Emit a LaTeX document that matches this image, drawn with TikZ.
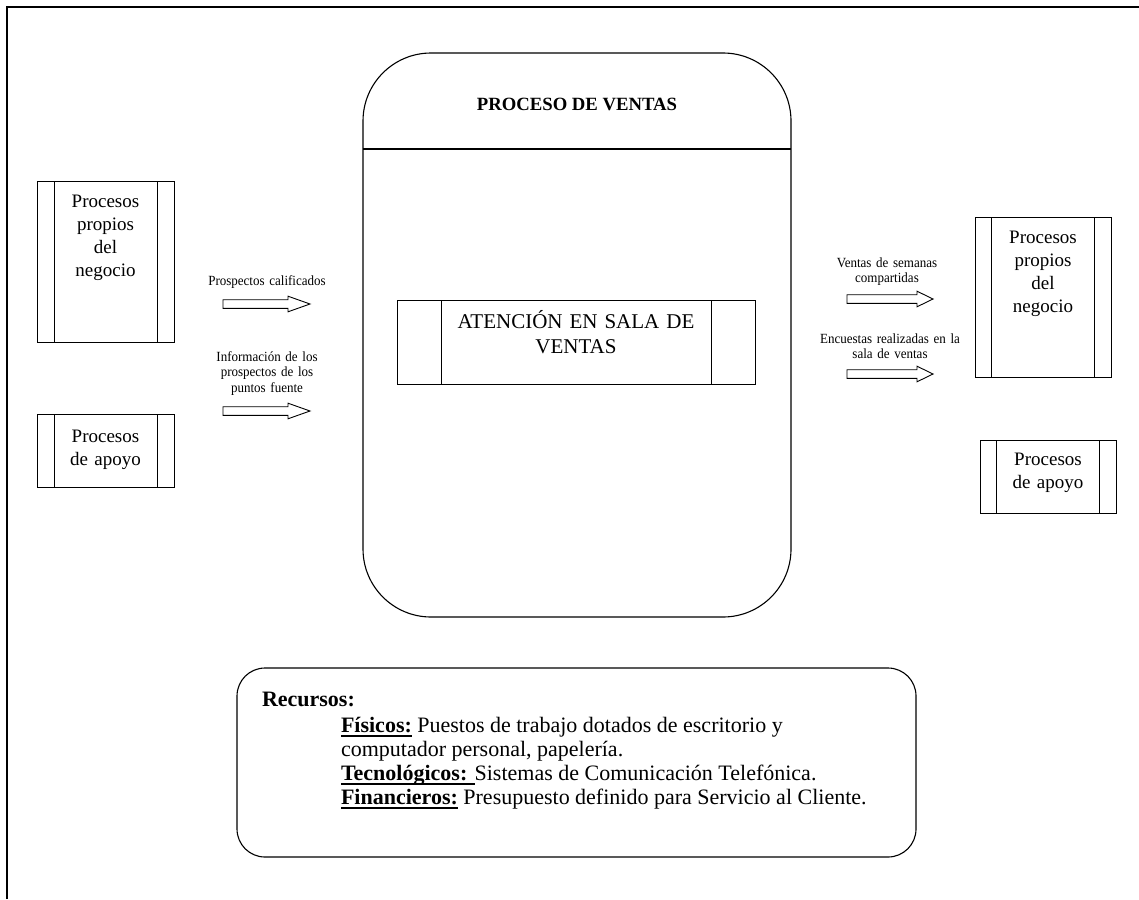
\documentclass[tikz,border=0pt]{standalone}
\usepackage{fontspec}
\setmainfont{Liberation Serif}
\newfontfamily\labelfont[FakeStretch=0.93]{Liberation Serif}
% bold heading with a rule under it, kept at one depth for every word
\newcommand\ulbf[1]{\setbox0\hbox{\textbf{#1}}\rlap{\rule[-4.5pt]{\wd0}{1.2pt}}\box0\relax}

\tikzset{
  pics/fatarrow/.style n args={2}{code={
    \draw[line width=0.9pt] (0,-4.3) -- ({#1-#2},-4.3) -- ({#1-#2},-7.8) -- (#1,0)
      -- ({#1-#2},7.8) -- ({#1-#2},4.3) -- (0,4.3) -- cycle;}}
}

\begin{document}
\begin{tikzpicture}[x=1pt,y=-1pt,
  every node/.style={inner sep=0pt,outer sep=0pt},
  frameline/.style={line width=2.3pt},
  procbox/.style={draw,line width=0.9pt,rectangle,
    path picture={
      \draw[line width=0.9pt] ([xshift=#1]path picture bounding box.north west)
        -- ([xshift=#1]path picture bounding box.south west);
      \draw[line width=0.9pt] ([xshift=-#1]path picture bounding box.north east)
        -- ([xshift=-#1]path picture bounding box.south east);}},
  boxtext/.style={anchor=base,text width=130pt,align=center,
    font=\fontsize{19}{23}\selectfont},
  lbl/.style={anchor=base,text width=150pt,align=center,
    font=\labelfont\fontsize{14}{15.5}\selectfont},
  restext/.style={anchor=base west,font=\fontsize{22}{24}\selectfont}
]
\fill[white] (0,0) rectangle (1139,899);
\useasboundingbox (0,0) rectangle (1139,899);

% page frame (top and left edges)
\draw[frameline] (7.3,899) -- (7.3,6.7) -- (1139,6.7);

% central process
\node[draw,line width=1.1pt,rectangle,rounded corners=68pt,
  minimum width=428pt,minimum height=564pt] (ventas) at (577,335) {};
\draw[line width=1.6pt] (ventas.west |- 0,149) -- (ventas.east |- 0,149);
\node[anchor=base,font=\bfseries\fontsize{18.7}{22}\selectfont] (titulo) at (577,110) {PROCESO DE VENTAS};

\node[procbox=44pt,minimum width=358pt,minimum height=84pt] (atencion) at (576,342) {};
\node[anchor=base,text width=300pt,align=center,font=\fontsize{21}{25.5}\selectfont]
  (atenciontxt) at (576,328) {ATENCIÓN EN SALA DE\\VENTAS};

% incoming processes
\node[procbox=17pt,minimum width=137pt,minimum height=161pt] (propiosL) at (105.5,261.5) {};
\node[boxtext] (propiosLtxt) at (105.5,207) {Procesos\\propios\\del\\negocio};
\node[procbox=17pt,minimum width=137pt,minimum height=73pt] (apoyoL) at (105.5,450.5) {};
\node[boxtext] (apoyoLtxt) at (105.5,442) {Procesos\\de apoyo};

% outgoing processes
\node[procbox=16.5pt,minimum width=136pt,minimum height=160pt] (propiosR) at (1043,297) {};
\node[boxtext] (propiosRtxt) at (1043,243) {Procesos\\propios\\del\\negocio};
\node[procbox=16.5pt,minimum width=136pt,minimum height=73pt] (apoyoR) at (1048,476.5) {};
\node[boxtext] (apoyoRtxt) at (1048,465) {Procesos\\de apoyo};

% inputs
\node[lbl] (in1) at (267,285) {Prospectos calificados};
\pic (arrowin1) at (223,304) {fatarrow={87}{22}};
\node[lbl] (in2) at (267,361) {Información de los\\prospectos de los\\puntos fuente};
\pic (arrowin2) at (223,411) {fatarrow={87}{22}};

% outputs
\node[lbl] (out1) at (887,267) {Ventas de semanas\\compartidas};
\pic (arrowout1) at (847,299) {fatarrow={86}{16}};
\node[lbl] (out2) at (890,343) {Encuestas realizadas en la\\sala de ventas};
\pic (arrowout2) at (847,374) {fatarrow={86}{16}};

% resources
\node[draw,line width=1.1pt,rectangle,rounded corners=28pt,
  minimum width=679pt,minimum height=189pt] (recursos) at (576.5,762.5) {};
\node[restext] (rec0) at (262,706) {\textbf{Recursos:}};
\node[restext] (rec1) at (341,732) {\ulbf{Físicos:} Puestos de trabajo dotados de escritorio y};
\node[restext] (rec2) at (341,756) {computador personal, papelería.};
\node[restext] (rec3) at (341,780) {\ulbf{Tecnológicos: }Sistemas de Comunicación Telefónica.};
\node[restext] (rec4) at (341,804) {\ulbf{Financieros:} Presupuesto definido para Servicio al Cliente.};
\end{tikzpicture}
\end{document}
